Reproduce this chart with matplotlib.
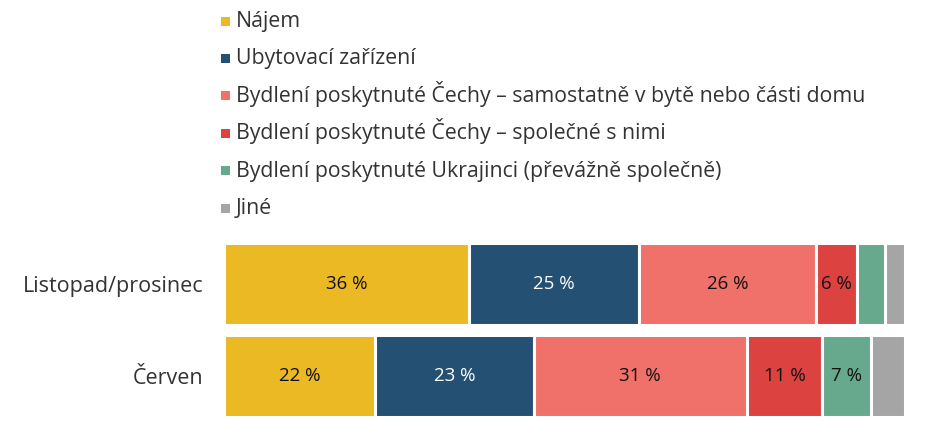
import matplotlib
matplotlib.use("Agg")
import matplotlib.pyplot as plt
from matplotlib.patches import Rectangle
import numpy as np

categories = ["Listopad/prosinec", "Červen"]
series = [
    "Nájem",
    "Ubytovací zařízení",
    "Bydlení poskytnuté Čechy – samostatně v bytě nebo části domu",
    "Bydlení poskytnuté Čechy – společné s nimi",
    "Bydlení poskytnuté Ukrajinci (převážně společně)",
    "Jiné",
]
listopad = [36, 25, 26, 6, 4, 3]
cerven = [22, 23, 31, 11, 7, 5]
colors = ["#EBB923", "#245073", "#EF716A", "#DC4240", "#67A98D", "#A5A5A5"]
text_colors = ["#111111", "#FFFFFF", "#111111", "#111111", "#111111", "#111111"]

plt.rcParams["font.family"] = ["Open Sans", "DejaVu Sans"]

W, H = 925, 438
fig = plt.figure(figsize=(W/100, H/100), dpi=100)
ax = fig.add_axes([224/W, 1-417/H, (905-224)/W, (417-243)/H])

data = np.array([listopad, cerven], dtype=float)
totals = data.sum(axis=1, keepdims=True)
shares = data / totals * 100
ypos = np.arange(len(categories))
left = np.zeros(len(categories))
for j in range(len(series)):
    ax.barh(ypos, shares[:, j], left=left, height=0.886, color=colors[j],
            edgecolor="white", linewidth=2.2)
    for i in range(len(categories)):
        if data[i, j] >= 6:
            ax.text(left[i] + shares[i, j]/2, ypos[i], f"{int(data[i, j])} %",
                    ha="center", va="center", fontsize=13.5,
                    color=text_colors[j])
    left += shares[:, j]

ax.set_xlim(0, 100)
ax.set_ylim(1 + 0.443, -0.443)
ax.set_yticks(ypos)
ax.set_yticklabels(categories, fontsize=15.5, color="#333333")
ax.tick_params(axis="y", length=0, pad=15)
ax.set_xticks([])
for s in ax.spines.values():
    s.set_visible(False)

# legend drawn manually in figure pixel coordinates
for k, (name, c) in enumerate(zip(series, colors)):
    base = 27 + k * 37.4
    fig.patches.append(Rectangle((220.5/W, 1-(base-1.5)/H), 9/W, 9/H,
                                 transform=fig.transFigure, facecolor=c,
                                 edgecolor="none"))
    fig.text(236/W, 1-base/H, name, ha="left", va="baseline",
             fontsize=15.3, color="#333333")

fig.savefig("out.png", dpi=100)
